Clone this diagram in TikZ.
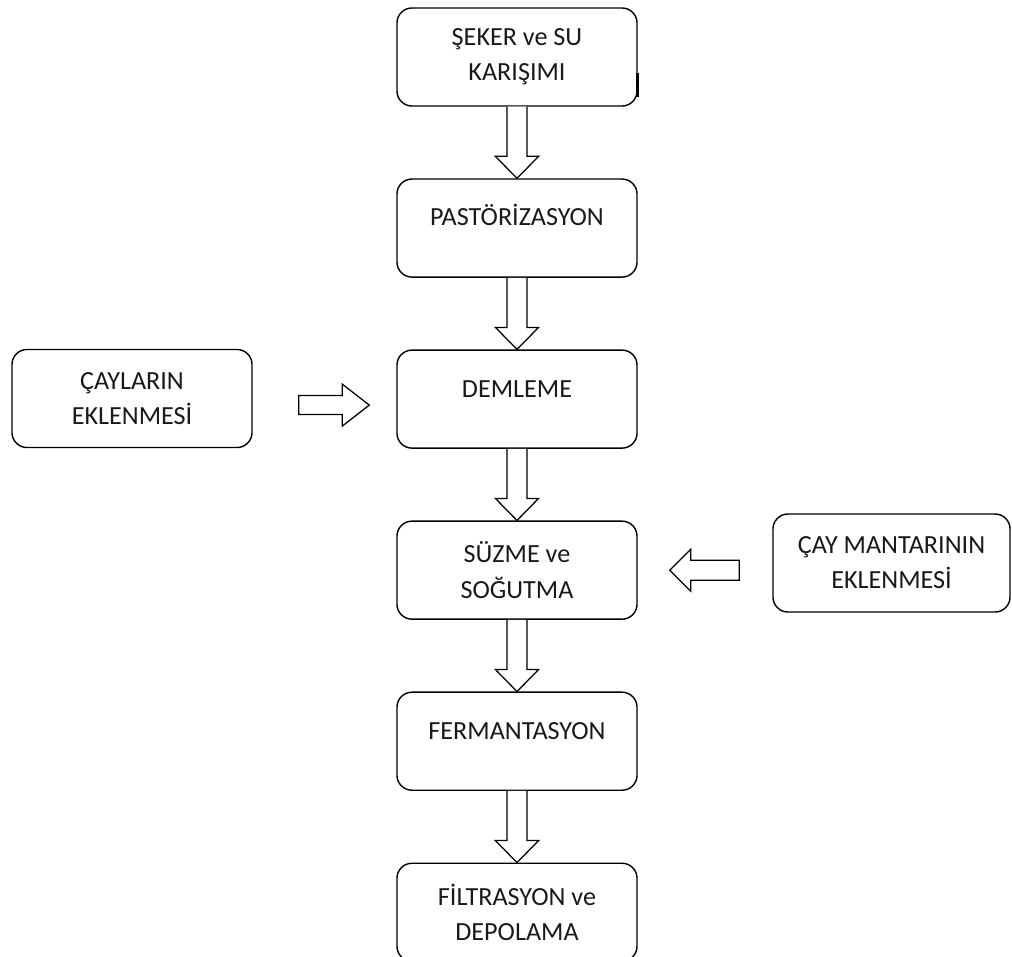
\documentclass[tikz,border=0pt]{standalone}
\usepackage{fontspec}
\setmainfont{Carlito}
\usetikzlibrary{
	positioning,
	calc
}

\tikzset{
	stepbox/.style={draw, rounded corners=0.375cm, line width=1pt,
		minimum width=6cm, minimum height=2.45cm, inner sep=0pt,
		align=center, font=\fontsize{18.6}{25}\selectfont, text=black!90},
	oneline/.style={text height=12pt, text depth=15pt},
	hollow/.style={draw, line width=0.9pt, line join=miter, fill=white}
}

% hollow block arrow from one box down to the next
\newcommand{\blockdown}[2]{%
	\draw[hollow]
		([xshift=-0.25cm]#1.south) -- ([xshift=-0.25cm,yshift=0.55cm]#2.north)
		-- ([xshift=-0.54cm,yshift=0.55cm]#2.north) -- (#2.north)
		-- ([xshift=0.54cm,yshift=0.55cm]#2.north)
		-- ([xshift=0.25cm,yshift=0.55cm]#2.north) -- ([xshift=0.25cm]#1.south);}

\begin{document}
\begin{tikzpicture}[x=0.025cm, y=-0.025cm, node distance=1.79cm]
		\useasboundingbox (0,0) rectangle (1012,956);

		\node[stepbox]                        (seker)   at (517,57) {ŞEKER ve SU\\KARIŞIMI};
		\node[stepbox,oneline,below=of seker]  (pastor)  {PASTÖRİZASYON};
		\node[stepbox,oneline,below=of pastor] (demleme) {DEMLEME};
		\node[stepbox,below=of demleme]        (suzme)   {SÜZME ve\\SOĞUTMA};
		\node[stepbox,oneline,below=of suzme]  (ferm)    {FERMANTASYON};
		\node[stepbox,below=of ferm]           (filtre)  {FİLTRASYON ve\\DEPOLAMA};

		\node[stepbox]                         (cay)     at (132,398.5) {ÇAYLARIN\\EKLENMESİ};
		\node[stepbox,minimum width=5.925cm]   (mantar)  at (891.5,563) {ÇAY MANTARININ\\EKLENMESİ};

		% small thick stroke on the first box
		\draw[line width=1.8pt] ([yshift=-0.4cm]seker.east) -- ([yshift=-1.0cm]seker.east);

		\blockdown{seker}{pastor}
		\blockdown{pastor}{demleme}
		\blockdown{demleme}{suzme}
		\blockdown{suzme}{ferm}
		\blockdown{ferm}{filtre}

		% side arrows
		\coordinate (ltip) at ([shift={(-0.675cm,-0.15cm)}]demleme.west);
		\coordinate (lend) at ($(cay.east |- ltip)+(1.15cm,0)$);
		\draw[hollow]
			($(lend)+(0,0.2375cm)$) -- ($(ltip)+(-0.675cm,0.2375cm)$)
			-- ($(ltip)+(-0.675cm,0.525cm)$) -- (ltip)
			-- ($(ltip)+(-0.675cm,-0.525cm)$) -- ($(ltip)+(-0.675cm,-0.2375cm)$)
			-- ($(lend)+(0,-0.2375cm)$) -- cycle;

		\coordinate (rtip) at ([xshift=0.8cm]suzme.east);
		\coordinate (rend) at ($(mantar.west |- rtip)+(-0.825cm,0)$);
		\draw[hollow]
			($(rend)+(0,0.25cm)$) -- ($(rtip)+(0.525cm,0.25cm)$)
			-- ($(rtip)+(0.525cm,0.525cm)$) -- (rtip)
			-- ($(rtip)+(0.525cm,-0.525cm)$) -- ($(rtip)+(0.525cm,-0.25cm)$)
			-- ($(rend)+(0,-0.25cm)$) -- cycle;
	\end{tikzpicture}
\end{document}
